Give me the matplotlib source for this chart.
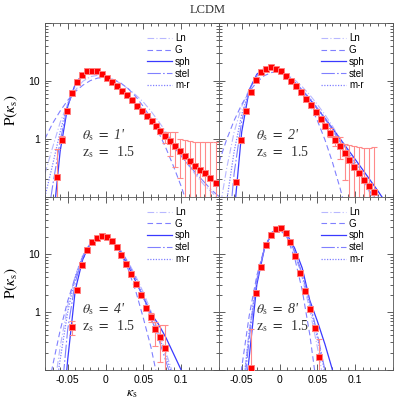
import matplotlib
matplotlib.use('Agg')
import matplotlib.pyplot as plt
import numpy as np
from matplotlib.ticker import FixedLocator, FixedFormatter, MultipleLocator, LogLocator, NullFormatter

plt.rcParams['mathtext.fontset'] = 'stix'

# simulation data
k1 = [-0.0638, -0.058, -0.0513, -0.0447, -0.038, -0.0315, -0.025, -0.0183, -0.0116, -0.005,
      0.0016, 0.0082, 0.0148, 0.0214, 0.028, 0.0347, 0.0413, 0.0479, 0.0545, 0.061,
      0.0664, 0.072, 0.0787, 0.0853, 0.092, 0.0985, 0.105, 0.112, 0.118, 0.125,
      0.1316, 0.138, 0.146]
p1 = [0.22, 0.96, 3.04, 6.1, 9.7, 12.7, 14.5, 15.0, 14.5, 13.2,
      11.4, 9.7, 8.2, 6.8, 5.6, 4.57, 3.7, 2.95, 2.43, 2.0,
      1.63, 1.34, 1.1, 0.9, 0.74, 0.6, 0.5, 0.41, 0.34, 0.29,
      0.25, 0.21, 0.17]
e1_lo = [0.22, 0.1, 0, 0, 0, 0, 0, 0, 0, 0,
         0, 0, 0, 0, 0, 0, 0, 0, 0, 0,
         0, 0.12, 0.25, 0.4, 0.41, 0.39, 0.5, 0.41, 0.34, 0.29,
         0.25, 0.21, 0.17]
e1_hi = [0.43, 0.14, 0, 0, 0, 0, 0, 0, 0, 0,
         0, 0, 0, 0, 0, 0, 0, 0, 0, 0,
         0, 0.15, 0.2, 0.4, 0.56, 0.4, 0.46, 0.49, 0.52, 0.57,
         0.61, 0.65, 0.69]

k2 = [-0.0575, -0.0513, -0.0447, -0.038, -0.0315, -0.0249, -0.0183, -0.0116, -0.005, 0.0016,
      0.0082, 0.0148, 0.0214, 0.028, 0.0347, 0.0413, 0.048, 0.0545, 0.0602, 0.0668,
      0.0734, 0.08, 0.0866, 0.092, 0.0985, 0.105, 0.112, 0.118, 0.125]
p2 = [0.18, 0.93, 3.04, 6.5, 10.4, 14.1, 16.1, 17.2, 16.1, 14.5,
      12.2, 10.0, 8.0, 6.3, 4.9, 3.8, 2.89, 2.2, 1.63, 1.25,
      0.96, 0.74, 0.57, 0.42, 0.33, 0.25, 0.19, 0.15, 0.12]
e2_lo = [0, 0.1, 0, 0, 0, 0, 0, 0, 0, 0,
         0, 0, 0, 0, 0, 0, 0, 0, 0, 0.2,
         0.21, 0.3, 0.38, 0.42, 0.33, 0.25, 0.19, 0.15, 0.12]
e2_hi = [0, 0.1, 0, 0, 0, 0, 0, 0, 0, 0,
         0, 0, 0, 0, 0, 0, 0, 0, 0, 0.25,
         0.14, 0.34, 0.25, 0.37, 0.41, 0.48, 0.51, 0.55, 0.6]

k3 = [-0.0447, -0.038, -0.0315, -0.0249, -0.0183, -0.0116, -0.005, 0.0016, 0.0082, 0.0148,
      0.0201, 0.0271, 0.0333, 0.04, 0.0466, 0.0532, 0.0598, 0.0659, 0.0725, 0.0787]
p3 = [0.56, 2.4, 6.5, 11.7, 16.3, 19.4, 20.9, 19.6, 16.7, 13.2,
      9.7, 6.9, 4.5, 3.1, 2.0, 1.2, 0.81, 0.51, 0.375, 0.236]
e3_lo = [0.16, 0, 0, 0, 0, 0, 0, 0, 0, 0,
         0, 0, 0, 0, 0, 0, 0.14, 0.25, 0.235, 0.236]
e3_hi = [0.15, 0, 0, 0, 0, 0, 0, 0, 0, 0,
         0, 0, 0, 0, 0, 0, 0.17, 0.16, 0.225, 0.36]

k4 = [-0.038, -0.031, -0.0249, -0.0183, -0.0116, -0.005, 0.0016, 0.0082, 0.0139, 0.0205,
      0.0271, 0.0337, 0.0403, 0.047, 0.0527]
p4 = [0.107, 2.13, 6.0, 14.3, 21.5, 26.9, 28.8, 23.7, 16.3, 9.3,
      4.7, 2.28, 1.13, 0.54, 0.17]
e4_lo = [0.107, 0, 0, 0, 0, 0, 0, 0, 0, 0, 0, 0, 0, 0.06, 0.17]
e4_hi = [0.4, 0, 0, 0, 0, 0, 0, 0, 0, 0, 0, 0, 0, 0.06, 0.17]

# model curves, read at kappa = -0.08 ... 0.15
kgrid = [-0.08, -0.07, -0.06, -0.05, -0.04, -0.03, -0.02, -0.01, 0.0, 0.01, 0.02, 0.03,
         0.04, 0.05, 0.06, 0.07, 0.08, 0.09, 0.10, 0.11, 0.12, 0.13, 0.14, 0.15]

ln1 = [0.25, 0.7, 1.9, 4.0, 6.9, 9.8, 11.8, 12.5, 12.0, 10.7, 9.0, 7.3,
       5.7, 4.3, 3.0, 2.0, 1.3, 0.82, 0.52, 0.34, 0.23, 0.16, 0.12, 0.09]
g1 = [1.0, 1.83, 3.0, 4.6, 6.5, 8.4, 10.1, 11.2, 11.36, 10.6, 9.2, 7.3,
      5.35, 3.6, 2.25, 1.3, 0.68, 0.33, 0.15, 0.062, 0.02, 0.006, 0.002, 0.001]
sph1 = [0.001, 0.03, 0.6, 3.6, 8.8, 13.3, 15.2, 14.3, 12.0, 9.4, 7.2, 5.4,
        3.9, 2.85, 2.1, 1.5, 1.08, 0.78, 0.57, 0.42, 0.32, 0.25, 0.2, 0.16]
stel1 = [0.02, 0.15, 0.9, 3.7, 8.5, 12.8, 14.6, 14.0, 12.0, 9.6, 7.4, 5.6,
         4.1, 3.0, 2.15, 1.5, 1.05, 0.73, 0.5, 0.35, 0.25, 0.18, 0.13, 0.1]
mr1 = [0.1, 0.35, 1.3, 4.0, 8.3, 12.0, 13.9, 13.6, 11.8, 9.5, 7.4, 5.6,
       4.2, 3.1, 2.3, 1.65, 1.2, 0.86, 0.62, 0.45, 0.33, 0.25, 0.19, 0.14]

ln2 = [0.05, 0.3, 1.3, 3.6, 7.2, 11.3, 14.5, 15.6, 14.9, 12.9, 10.4, 7.9,
       5.7, 3.9, 2.6, 1.65, 1.0, 0.6, 0.35, 0.2, 0.11, 0.06, 0.03, 0.015]
g2 = [0.39, 0.96, 2.06, 3.9, 6.5, 9.5, 12.3, 14.0, 14.0, 12.3, 9.5, 6.5,
      3.9, 2.06, 0.96, 0.39, 0.14, 0.045, 0.012, 0.003, 0.001, 0.001, 0.001, 0.001]
sph2 = [0.0001, 0.0005, 0.05, 1.3, 7.0, 13.0, 16.5, 16.8, 15.0, 12.3, 9.3, 6.8,
        4.8, 3.3, 2.25, 1.5, 1.0, 0.66, 0.44, 0.29, 0.19, 0.125, 0.08, 0.05]
stel2 = [0.001, 0.01, 0.25, 2.0, 6.9, 12.4, 15.8, 16.2, 14.7, 12.2, 9.4, 6.9,
         4.9, 3.3, 2.2, 1.4, 0.88, 0.55, 0.33, 0.2, 0.12, 0.07, 0.04, 0.02]
mr2 = [0.01, 0.08, 0.6, 2.6, 7.0, 12.0, 15.3, 15.9, 14.6, 12.2, 9.5, 7.0,
       5.0, 3.4, 2.3, 1.5, 0.97, 0.62, 0.39, 0.25, 0.16, 0.1, 0.06, 0.04]

ln3 = [0.005, 0.03, 0.25, 1.3, 4.3, 9.5, 15.3, 19.0, 19.0, 16.0, 11.6, 7.4,
       4.2, 2.2, 1.05, 0.47, 0.2, 0.08, 0.03, 0.01, 0.003, 0.001, 0.001, 0.001]
g3 = [0.023, 0.117, 0.48, 1.56, 4.0, 8.3, 13.7, 18.0, 18.8, 15.7, 10.4, 5.5,
      2.3, 0.79, 0.25, 0.06, 0.012, 0.002, 0.001, 0.001, 0.001, 0.001, 0.001, 0.001]
sph3 = [0.0001, 0.0005, 0.005, 0.15, 2.4, 8.3, 15.5, 20.0, 20.2, 16.5, 11.0, 6.3,
        3.4, 1.8, 0.95, 0.62, 0.36, 0.19, 0.1, 0.05, 0.02, 0.01, 0.005, 0.002]
stel3 = [0.0001, 0.001, 0.02, 0.5, 3.3, 9.0, 15.5, 19.6, 19.8, 16.6, 11.6, 7.0,
         3.7, 1.8, 0.82, 0.35, 0.14, 0.055, 0.02, 0.007, 0.002, 0.001, 0.001, 0.001]
mr3 = [0.003, 0.02, 0.15, 1.0, 4.0, 9.6, 15.5, 19.3, 19.4, 16.3, 11.6, 7.1,
       3.9, 1.95, 0.92, 0.41, 0.17, 0.07, 0.025, 0.008, 0.002, 0.001, 0.001, 0.001]

ln4 = [0.0001, 0.0005, 0.003, 0.03, 0.5, 3.8, 12.8, 23.5, 27.0, 20.5, 10.5, 3.9,
       1.1, 0.25, 0.05, 0.01, 0.002, 0.001, 0.001, 0.001, 0.001, 0.001, 0.001, 0.001]
g4 = [0.0001, 0.0005, 0.005, 0.11, 0.88, 4.3, 12.7, 23.6, 27.2, 19.5, 8.7, 2.4,
      0.41, 0.044, 0.003, 0.001, 0.001, 0.001, 0.001, 0.001, 0.001, 0.001, 0.001, 0.001]
sph4 = [0.0001, 0.0001, 0.0005, 0.01, 0.17, 3.0, 12.5, 24.0, 27.5, 22.0, 12.8, 5.8,
        1.6, 0.7, 0.28, 0.1, 0.03, 0.01, 0.002, 0.001, 0.001, 0.001, 0.001, 0.001]
stel4 = [0.0001, 0.0005, 0.002, 0.02, 0.35, 3.5, 12.6, 23.8, 27.2, 21.0, 11.3, 4.6,
         1.5, 0.42, 0.1, 0.025, 0.005, 0.001, 0.001, 0.001, 0.001, 0.001, 0.001, 0.001]
mr4 = [0.0001, 0.0005, 0.003, 0.03, 0.45, 3.6, 12.5, 23.5, 27.2, 21.0, 11.0, 4.3,
       1.35, 0.36, 0.09, 0.02, 0.004, 0.001, 0.001, 0.001, 0.001, 0.001, 0.001, 0.001]

theta_labels = ["1'", "2'", "4'", "8'"]
zs = '1.5'

panels = [
    (k1, p1, e1_lo, e1_hi, [ln1, g1, sph1, stel1, mr1]),
    (k2, p2, e2_lo, e2_hi, [ln2, g2, sph2, stel2, mr2]),
    (k3, p3, e3_lo, e3_hi, [ln3, g3, sph3, stel3, mr3]),
    (k4, p4, e4_lo, e4_hi, [ln4, g4, sph4, stel4, mr4]),
]

names = ['Ln', 'G', 'sph', 'stel', 'm-r']
styles = [
    dict(color='#b8b8ff', ls=(0, (6, 2, 1, 2)), lw=0.8),
    dict(color='#8080ff', ls=(0, (5, 3)), lw=0.8),
    dict(color='#3a3aff', ls='-', lw=0.9),
    dict(color='#8080ff', ls=(0, (12, 2, 1.5, 2)), lw=0.8),
    dict(color='#8080ff', ls=(0, (1, 1.2)), lw=0.9),
]

fig, axes = plt.subplots(2, 2, figsize=(4.15, 4.15), dpi=100, sharex=True, sharey=True)
fig.subplots_adjust(left=0.1084, right=0.947, top=0.9446, bottom=0.1084, wspace=0, hspace=0)

for i, ax in enumerate(axes.flat):
    k, p, elo, ehi, curves = panels[i]
    for c, nm, st in zip(curves, names, styles):
        ax.plot(kgrid, c, label=nm, **st)
    ax.errorbar(k, p, yerr=[elo, ehi], fmt='none', ecolor='#ff8a8a', elinewidth=0.8,
                capsize=2, capthick=0.8, zorder=3)
    ax.plot(k, p, 's', color='#ff0000', mec='#ff8080', mew=0.7, ms=4, zorder=4)

    ax.set_yscale('log')
    ax.set_xlim(-0.08, 0.15)
    ax.set_ylim(0.1, 100)
    ax.xaxis.set_major_locator(FixedLocator([-0.05, 0, 0.05, 0.1]))
    ax.xaxis.set_major_formatter(FixedFormatter(['-0.05', '0', '0.05', '0.1']))
    ax.xaxis.set_minor_locator(MultipleLocator(0.01))
    ax.yaxis.set_major_locator(FixedLocator([0.1, 1, 10, 100]))
    ax.yaxis.set_major_formatter(FixedFormatter(['', '1', '10', '']))
    ax.yaxis.set_minor_locator(LogLocator(base=10, subs=np.arange(2, 10)))
    ax.yaxis.set_minor_formatter(NullFormatter())
    ax.tick_params(which='both', direction='in', top=True, right=True, width=0.6,
                   colors='#444444', labelcolor='black', labelsize=7.5)
    ax.tick_params(which='major', length=4)
    ax.tick_params(which='minor', length=2)
    for s in ax.spines.values():
        s.set_linewidth(0.6)
        s.set_color('#555555')
    for lab in ax.get_xticklabels() + ax.get_yticklabels():
        lab.set_family('Liberation Sans')

    ax.legend(loc='upper left', bbox_to_anchor=(0.585, 0.94), frameon=False,
              handlelength=2.6, handletextpad=0.3, labelspacing=0.18,
              borderpad=0, borderaxespad=0, prop={'family': 'Liberation Sans', 'size': 7})

    ax.text(0.21, 0.33, r'$\theta_{\rm s}\ =\ $' + theta_labels[i], transform=ax.transAxes,
            fontsize=10, family='Liberation Serif', style='italic', color='#333333')
    ax.text(0.21, 0.23, r'$\mathrm{z}_{\rm s}\ =\ $ ' + zs, transform=ax.transAxes,
            fontsize=10, family='Liberation Serif', color='#333333')

for ax in axes[:, 0]:
    ax.set_ylabel(r'$\mathrm{P}(\kappa_{\rm s})$', fontsize=11, labelpad=6)
axes[1, 0].set_xlabel(r'$\kappa_{\rm s}$', fontsize=10, labelpad=1)

fig.text(0.5, 0.99, 'LCDM', ha='center', va='top', fontsize=9,
         family='Liberation Serif', color='#333333')

fig.savefig('out.png', dpi=100)
